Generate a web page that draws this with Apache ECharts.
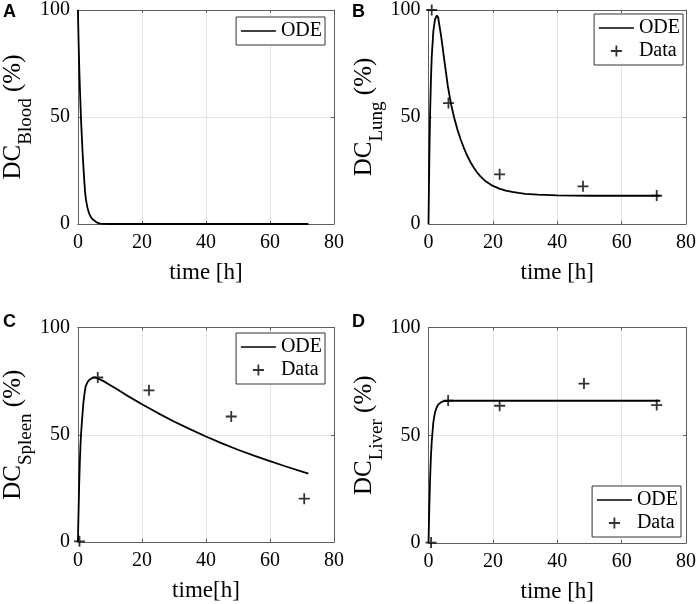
<!DOCTYPE html>
<html><head><meta charset="utf-8">
<script src="https://cdn.jsdelivr.net/npm/echarts@6/dist/echarts.min.js"></script>
<style>html,body{margin:0;padding:0;background:#fff}#c{width:699px;height:604px}</style>
</head><body><div id="c"></div>
<script>
// ---- data ----
const xTicks = [0, 20, 40, 60, 80];
const yTicks = [0, 50, 100];

const bloodT   = [0, 0.25, 0.5, 0.75, 1, 1.25, 1.5, 1.75, 2, 2.25, 2.5, 3, 3.5, 4, 4.5, 5, 6, 7, 8, 10, 20, 30, 40, 50, 60, 72];
const bloodODE = [100, 83, 69, 58, 48, 40, 32.5, 26, 20, 15, 11.5, 7.5, 5, 3.4, 2.3, 1.5, 0.6, 0.2, 0.05, 0, 0, 0, 0, 0, 0, 0];

const lungT    = [0, 0.25, 0.5, 0.75, 1, 1.5, 2, 2.6, 3, 4, 5, 6, 7, 8, 9, 10, 11, 12, 13, 14, 15, 16, 17, 18, 20, 22, 24, 26, 28, 30, 34, 40, 50, 60, 72];
const lungODE  = [0, 30, 52, 67, 78, 90, 95.5, 97.5, 96.5, 87, 75.5, 64.5, 56, 49.5, 44, 39.5, 35.5, 32, 29, 26.5, 24.3, 22.5, 21, 19.7, 17.8, 16.5, 15.6, 15, 14.5, 14.1, 13.7, 13.4, 13.2, 13.2, 13.2];
const lungDataT = [1, 6.2, 22.1, 48, 70.9];
const lungData  = [100, 56.5, 23.2, 17.6, 13.3];

const spleenT   = [0, 0.2, 0.4, 0.6, 0.8, 1, 1.3, 1.7, 2, 2.4, 3, 3.5, 4.5, 5.5, 6, 8, 10, 12, 15, 20, 25, 30, 35, 40, 45, 50, 55, 60, 65, 72];
const spleenODE = [0, 14, 27, 37, 45, 50.6, 57, 64.6, 68.5, 72.4, 74.5, 75.5, 76.5, 76.7, 76.6, 75, 73.2, 71.4, 68.6, 64.2, 60.1, 56.2, 52.6, 49.2, 46, 43, 40.3, 37.7, 35.2, 31.9];
const spleenDataT = [0.5, 6.2, 22.2, 47.9, 70.7];
const spleenData  = [0.3, 76.7, 70.7, 58.5, 20.2];

const liverT   = [0, 0.25, 0.5, 0.75, 1, 1.5, 2, 2.5, 3, 4, 5, 6, 10, 20, 30, 40, 50, 60, 72];
const liverODE = [0, 16, 30, 40, 47, 56, 60.5, 62.8, 64.2, 65.4, 65.9, 66, 66, 66, 66, 66, 66, 66, 66];
const liverDataT = [0.8, 6.1, 22.1, 48.3, 70.9];
const liverData  = [0.2, 66.1, 63.7, 74, 64];

const panelLetters = ['A', 'B', 'C', 'D'];
const organs = ['Blood', 'Lung', 'Spleen', 'Liver'];
const xNames = ['time [h]', 'time [h]', 'time[h]', 'time [h]'];

// ---- build chart ----
const FONT = 'Liberation Serif';
const AX = '#5e5e5e';
const zip = (a, b) => a.map((v, i) => [v, b[i]]);

const layouts = [
  { grid: { left: 76,    top: 9,     width: 258, height: 215 },   legend: { right: 374, top: 17 },  letter: [3, 3] },
  { grid: { left: 428.5, top: 8.5,   width: 259, height: 215.5 }, legend: { right: 16,  top: 14 },  letter: [352, 3] },
  { grid: { left: 76,    top: 327.5, width: 258, height: 214.5 }, legend: { right: 374, top: 333 }, letter: [3, 313] },
  { grid: { left: 428.5, top: 327.5, width: 259, height: 216 },   legend: { right: 18,  bottom: 67 }, letter: [352, 313] }
];

const seriesDefs = [
  { ode: zip(bloodT, bloodODE), data: null },
  { ode: zip(lungT, lungODE), data: zip(lungDataT, lungData) },
  { ode: zip(spleenT, spleenODE), data: zip(spleenDataT, spleenData) },
  { ode: zip(liverT, liverODE), data: zip(liverDataT, liverData) }
];

const grid = [], xAxis = [], yAxis = [], series = [], legend = [], graphic = [];
const PLUS = 'path://M0,5L10,5M5,0L5,10';

layouts.forEach((L, i) => {
  grid.push(Object.assign({ containLabel: false }, L.grid));
  const common = {
    type: 'value', gridIndex: i,
    axisLine: { show: true, onZero: false, lineStyle: { color: AX, width: 1 } },
    axisTick: { show: true, inside: true, length: 3, lineStyle: { color: AX } }
  };
  xAxis.push(Object.assign({}, common, {
    position: 'bottom', min: xTicks[0], max: xTicks[xTicks.length - 1], interval: xTicks[1] - xTicks[0],
    axisLabel: { color: '#000', fontFamily: FONT, fontSize: 20, margin: 9 },
    splitLine: { show: true, lineStyle: { color: '#e3e3e3', width: 1 } },
    name: xNames[i], nameLocation: 'middle', nameGap: 37,
    nameTextStyle: { color: '#000', fontFamily: FONT, fontSize: 23 }
  }));
  xAxis.push(Object.assign({}, common, {
    position: 'top', min: xTicks[0], max: xTicks[xTicks.length - 1], interval: xTicks[1] - xTicks[0],
    axisLabel: { show: false }, splitLine: { show: false }
  }));
  yAxis.push(Object.assign({}, common, {
    position: 'left', min: yTicks[0], max: yTicks[yTicks.length - 1], interval: yTicks[1] - yTicks[0],
    axisLabel: { color: '#000', fontFamily: FONT, fontSize: 20, margin: 8 },
    splitLine: { show: true, lineStyle: { color: '#e3e3e3', width: 1 } },
    name: '{m|DC}{s|' + organs[i] + '}{m| (%)}', nameLocation: 'middle', nameGap: 40, nameRotate: 90,
    nameTextStyle: {
      rich: {
        m: { fontFamily: FONT, fontSize: 25, lineHeight: 25, verticalAlign: 'top', color: '#000' },
        s: { fontFamily: FONT, fontSize: 19, lineHeight: 19, padding: [16, 0, 0, 0], verticalAlign: 'top', color: '#000' }
      }
    }
  }));
  yAxis.push(Object.assign({}, common, {
    position: 'right', min: yTicks[0], max: yTicks[yTicks.length - 1], interval: yTicks[1] - yTicks[0],
    axisLabel: { show: false }, splitLine: { show: false }
  }));

  const d = seriesDefs[i];
  series.push({
    type: 'line', name: 'ODE', xAxisIndex: 2 * i, yAxisIndex: 2 * i,
    data: d.ode, symbol: 'none', smooth: false,
    lineStyle: { color: '#000', width: 1.8 }, itemStyle: { color: '#000' }, silent: true, z: 3
  });
  const names = [{ name: 'ODE', itemStyle: { color: 'rgba(0,0,0,0)', borderWidth: 0, opacity: 0 } }];
  if (d.data) {
    names.push({ name: 'Data' });
    series.push({
      type: 'scatter', name: 'Data', xAxisIndex: 2 * i, yAxisIndex: 2 * i,
      data: d.data, symbol: PLUS, symbolSize: 11, symbolKeepAspect: true, clip: false,
      itemStyle: { color: 'rgba(0,0,0,0)', borderColor: '#000', borderWidth: 1.8 }, silent: true, z: 4
    });
  }
  legend.push(Object.assign({
    orient: 'vertical', data: names, selectedMode: false,
    padding: [4, 3, 4, 4], itemGap: 3, itemWidth: 35, itemHeight: 11,
    borderColor: '#333', borderWidth: 1, backgroundColor: '#fff',
    textStyle: { fontFamily: FONT, fontSize: 20, color: '#000' },
    itemStyle: { borderWidth: 1.8 }, lineStyle: { width: 1.6 }
  }, L.legend));

  graphic.push({
    type: 'text', left: L.letter[0], top: L.letter[1],
    style: { text: panelLetters[i], fontFamily: 'Liberation Sans', fontWeight: 'bold', fontSize: 18, fill: '#000' }
  });
});

const chart = echarts.init(document.getElementById('c'), null, { renderer: 'canvas' });
chart.setOption({
  animation: false, backgroundColor: '#fff',
  textStyle: { fontFamily: FONT, color: '#000' },
  grid, xAxis, yAxis, series, legend, graphic
});
</script>
</body></html>
